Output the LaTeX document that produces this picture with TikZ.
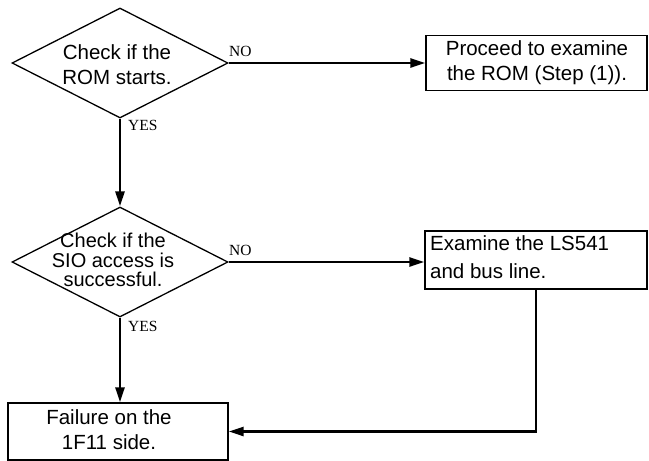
\documentclass[tikz,border=0pt]{standalone}
\usepackage{fontspec}
\setmainfont{Liberation Sans}
\newfontfamily\labelfont{Liberation Serif}
\usetikzlibrary{shapes.geometric,arrows.meta,calc}

\tikzset{
  decision/.style={draw, line width=1.3pt, shape=diamond, inner sep=0pt,
    minimum width=216pt, minimum height=110pt},
  actionbox/.style={draw, line width=1.4pt, rectangle, inner sep=0pt},
  boxtext/.style={font=\fontsize{20.5}{25}\selectfont, align=center, inner sep=0pt},
  flow/.style={line width=2.6pt, -{Triangle[length=15pt,width=9pt]}},
  answer/.style={font=\labelfont\fontsize{15.5}{15.5}\selectfont, inner sep=0pt, anchor=west}
}

\begin{document}
\begin{tikzpicture}[x=1pt,y=-1pt]
  \useasboundingbox (0,0) rectangle (649,461);

  % first test: does the ROM start?
  \node[decision] (d1) at (120,63) {};
  \node[boxtext] (d1text) at (117,65) {Check if the\\ROM starts.};

  \node[actionbox, minimum width=221pt, minimum height=55pt] (b1) at (536.5,63) {};
  \node[boxtext] (b1text) at (537,63) {Proceed to examine\\the ROM (Step (1)).};

  % second test: SIO access
  \node[decision] (d2) at (120,262) {};
  \node[boxtext, font=\fontsize{20}{19.5}\selectfont] (d2text) at (113,260) {Check if the\\SIO access is\\successful.};

  \node[actionbox, minimum width=222pt, minimum height=58pt] (b2) at (536,260) {};
  \node[boxtext, align=left, anchor=west, font=\fontsize{20.5}{28}\selectfont] (b2text) at (430,257) {Examine the LS541\\and bus line.};

  % result box
  \node[actionbox, minimum width=220pt, minimum height=57pt] (b3) at (118,431.5) {};
  \node[boxtext] (b3text) at (109,430) {Failure on the\\1F11 side.};

  % connectors
  \draw[flow] (d1.east) -- (b1.west);
  \draw[flow] (d1.south) -- (d2.north);
  \draw[flow] (d2.east) -- (d2.east -| b2.west);
  \draw[flow] (d2.south) -- (d2.south |- b3.north);
  \draw[flow] (b2.south) |- (b3.east);

  % branch labels
  \node[answer] (no1) at (229,51) {NO};
  \node[answer] (yes1) at (128,125) {YES};
  \node[answer] (no2) at (229,250) {NO};
  \node[answer] (yes2) at (128,326) {YES};
\end{tikzpicture}
\end{document}
